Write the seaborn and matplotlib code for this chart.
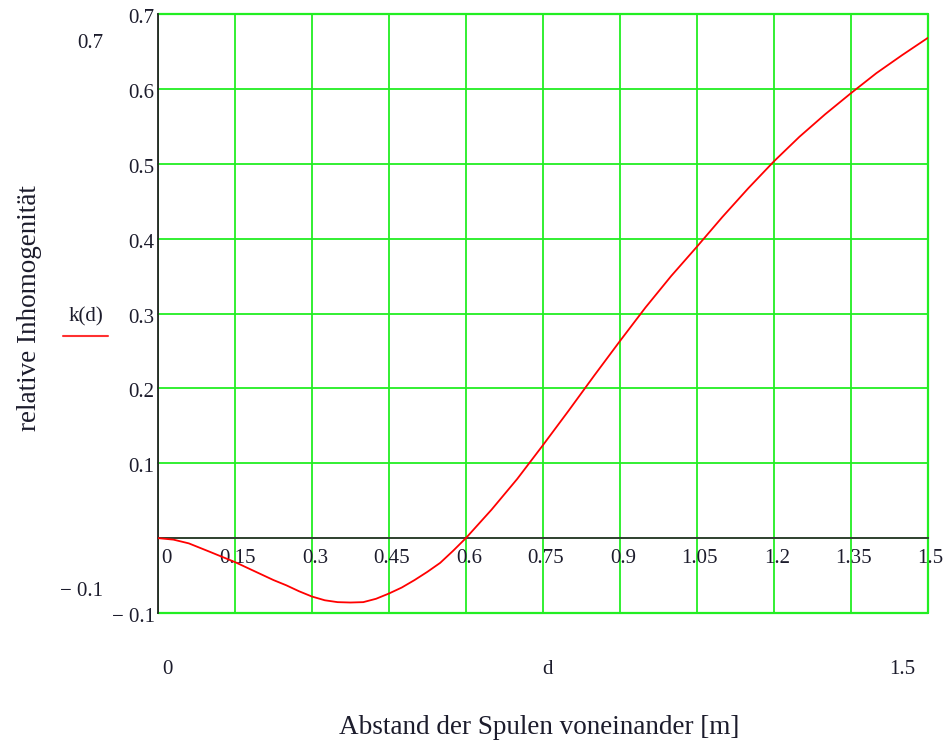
import matplotlib
matplotlib.use("Agg")
import matplotlib.pyplot as plt
import matplotlib.transforms as mtransforms
import seaborn as sns
import pandas as pd

# data
d_values = [0.0, 0.03, 0.06, 0.10, 0.125, 0.15, 0.175, 0.20, 0.225, 0.25, 0.275, 0.30,
            0.325, 0.35, 0.375, 0.40, 0.425, 0.45, 0.475, 0.50, 0.525, 0.55, 0.575,
            0.60, 0.625, 0.65, 0.70, 0.75, 0.80, 0.85, 0.90, 0.95, 1.00, 1.05,
            1.10, 1.15, 1.20, 1.25, 1.30, 1.35, 1.40, 1.45, 1.50]
k_values = [0.0, -0.002, -0.007, -0.018, -0.025, -0.032, -0.040, -0.048, -0.056,
            -0.063, -0.071, -0.078, -0.083, -0.0855, -0.086, -0.0855, -0.081,
            -0.074, -0.066, -0.056, -0.045, -0.033, -0.017,
            0.0, 0.019, 0.038, 0.079, 0.124, 0.170, 0.217,
            0.263, 0.308, 0.350, 0.389, 0.429, 0.467, 0.503, 0.536, 0.566, 0.594,
            0.621, 0.645, 0.668]
x_ticks = [0, 0.15, 0.3, 0.45, 0.6, 0.75, 0.9, 1.05, 1.2, 1.35, 1.5]
x_tick_labels = ["0", "0.15", "0.3", "0.45", "0.6", "0.75", "0.9", "1.05", "1.2", "1.35", "1.5"]
y_ticks = [-0.1, 0, 0.1, 0.2, 0.3, 0.4, 0.5, 0.6, 0.7]
y_tick_labels = ["\u2212 0.1", "", "0.1", "0.2", "0.3", "0.4", "0.5", "0.6", "0.7"]

sns.set_style("white")
plt.rcParams["font.family"] = ["Liberation Serif", "DejaVu Serif"]
TXT = "#1c1c2c"
TS = 15
GREEN = "#22ee22"

df = pd.DataFrame({"d": d_values, "k": k_values})

fig = plt.figure(figsize=(9.46, 7.44), dpi=100)
ax = fig.add_axes([158 / 946, 1 - 613 / 744, (927.7 - 158) / 946, (613 - 14) / 744])

sns.lineplot(data=df, x="d", y="k", color="#ff0000", linewidth=1.3, ax=ax, zorder=5)

ax.set_xlim(0, 1.5)
ax.set_ylim(-0.1, 0.7)
ax.set_xticks(x_ticks)
ax.set_xticklabels(x_tick_labels)
ax.set_yticks(y_ticks)
ax.set_yticklabels(y_tick_labels)
ax.set_xlabel("")
ax.set_ylabel("")

ax.grid(True, color=GREEN, linewidth=1.3)
for gl in ax.get_xgridlines() + ax.get_ygridlines():
    gl.set_clip_on(False)
ax.axvline(1.5, color=GREEN, linewidth=1.6, clip_on=False, zorder=1)
ax.axhline(0.7, color=GREEN, linewidth=1.6, clip_on=False, zorder=1)
ax.axhline(-0.1, color=GREEN, linewidth=1.6, clip_on=False, zorder=1)
ax.set_axisbelow(True)

for s in ["top", "right"]:
    ax.spines[s].set_visible(False)
ax.spines["bottom"].set_position(("data", 0))
ax.spines["bottom"].set_color("#333333")
ax.spines["left"].set_color("#222222")
ax.spines["bottom"].set_linewidth(1.3)
ax.spines["left"].set_linewidth(1.3)
ax.spines["bottom"].set_zorder(4)
ax.spines["left"].set_zorder(4)

ax.tick_params(axis="x", direction="in", length=5, width=1.2, color="#222222",
               pad=8, labelsize=TS, labelcolor=TXT)
ax.tick_params(axis="y", direction="inout", length=7, width=1.2, color="#222222",
               pad=-1, labelsize=TS, labelcolor=TXT)

shift = mtransforms.ScaledTranslation(3 / 100, 0, fig.dpi_scale_trans)
for i, lab in enumerate(ax.get_xticklabels()):
    lab.set_transform(lab.get_transform() + shift)
    if i == 0:
        lab.set_ha("left")

down = mtransforms.ScaledTranslation(0, -2 / 100, fig.dpi_scale_trans)
for lab in ax.get_yticklabels():
    lab.set_transform(lab.get_transform() + down)

def px(x, y, s, size=TS, **kw):
    fig.text(x / 946, 1 - y / 744, s, fontsize=size, color=TXT, **kw)

px(90, 44, "0.7", ha="center", va="center")
px(103, 591, "\u2212 0.1", ha="right", va="center")
px(167, 670, "0", ha="center", va="center")
px(547, 670, "d", ha="center", va="center")
px(902, 670, "1.5", ha="center", va="center")
px(86, 317, "k(d)", ha="center", va="center")
fig.add_artist(plt.Line2D([63 / 946, 108 / 946], [1 - 336 / 744, 1 - 336 / 744],
                          color="#ff3030", linewidth=1.5))

px(539, 728, "Abstand der Spulen voneinander [m]", size=19.5, ha="center", va="center")
px(30, 308, "relative Inhomogenität", size=19.5, ha="center", va="center", rotation=90)

fig.savefig("out.png", dpi=100)
